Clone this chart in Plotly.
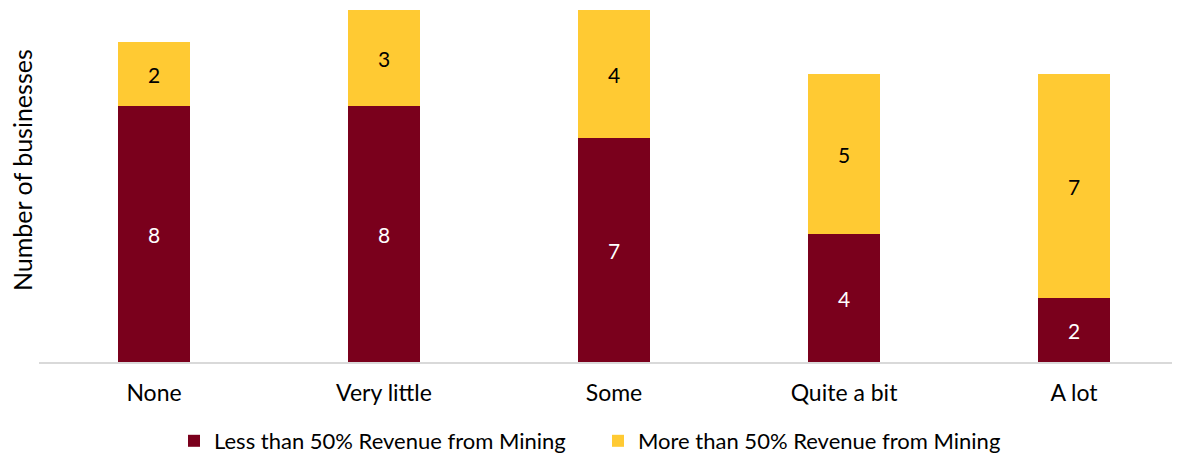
import plotly.graph_objects as go

categories = ["None", "Very little", "Some", "Quite a bit", "A lot"]
less_than_50 = [8, 8, 7, 4, 2]
more_than_50 = [2, 3, 4, 5, 7]
series_names = ["Less than 50% Revenue from Mining", "More than 50% Revenue from Mining"]
y_title = "Number of businesses"

RED = "#7A001C"
YELLOW = "#FFCA33"
FONT = "Lato, Carlito, Calibri, sans-serif"

# page body has an 8px margin, so the figure is drawn 8px smaller and offset
OFF = 8
W, H = 1180 - OFF, 462 - OFF
ML, MR, MT, MB = 39 - OFF, 0, 10 - OFF, 100
plot_w = W - ML - MR
plot_h = H - MT - MB
cat_px = 230.0
bar_w = 72 / cat_px

fig = go.Figure()
fig.add_trace(go.Bar(
    x=categories, y=less_than_50, name=series_names[0],
    marker=dict(color=RED, line=dict(width=0)), width=bar_w,
    text=less_than_50, textposition="inside", insidetextanchor="middle",
    textfont=dict(color="white", size=21, family=FONT),
))
fig.add_trace(go.Bar(
    x=categories, y=more_than_50, name=series_names[1],
    marker=dict(color=YELLOW, line=dict(width=0)), width=bar_w,
    text=more_than_50, textposition="inside", insidetextanchor="middle",
    textfont=dict(color="black", size=21, family=FONT),
))

x_max = -0.5 + plot_w / cat_px

fig.update_layout(
    width=W, height=H,
    margin=dict(l=ML, r=MR, t=MT, b=MB, pad=0),
    barmode="stack",
    plot_bgcolor="white", paper_bgcolor="white",
    font=dict(family=FONT, size=20, color="black"),
    uniformtext=dict(minsize=8, mode="show"),
    xaxis=dict(
        range=[-0.5, x_max], showgrid=False, zeroline=False,
        showline=True, linecolor="#D9D9D9", linewidth=2,
        ticks="", tickfont=dict(size=23, family=FONT, color="black"),
        ticklabelstandoff=9,
    ),
    yaxis=dict(
        range=[0, 11], showgrid=False, zeroline=False, showline=False,
        showticklabels=False, ticks="",
    ),
    showlegend=True,
    legend=dict(
        orientation="h", x=(174 - 39) / plot_w, xanchor="left",
        y=0, yref="container", yanchor="bottom",
        font=dict(size=22, family=FONT, color="black"),
        entrywidth=379, entrywidthmode="pixels",
        traceorder="normal", itemclick=False,
    ),
)

fig.add_annotation(
    text=y_title, textangle=-90, xref="paper", yref="paper",
    x=(22 - 39) / plot_w, y=(362 - 170) / 352, xanchor="center", yanchor="middle",
    showarrow=False, font=dict(size=25, family=FONT, color="black"),
)

fig.write_html("out.html")
